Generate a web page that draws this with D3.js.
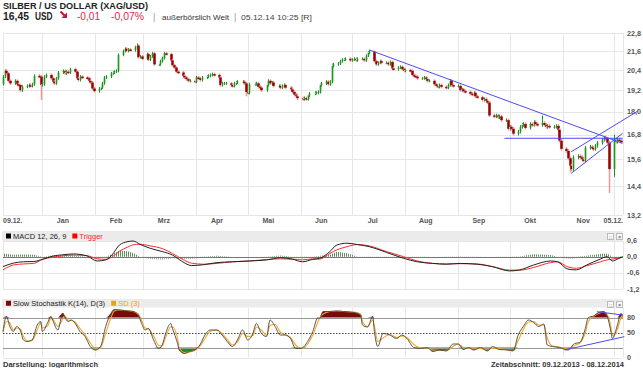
<!DOCTYPE html>
<html><head><meta charset="utf-8">
<script src="https://cdn.jsdelivr.net/npm/d3@7"></script>
<style>body{margin:0;background:#fff}svg{display:block}text{font-family:"Liberation Sans",Arial,sans-serif}</style>
</head><body><svg id="c" width="643" height="368"></svg>
<script>
// ---------- DATA ----------
const startDate = "2013-12-09";
const endDate = "2014-12-08";
const firstOpen = 19.55;
// daily closes, one per weekday from 09.12.2013
const closes = [
20.0,20.35,20.2,19.75,19.6, 19.75,19.55,19.5,19.2,19.4, 19.45,19.5,19.45,19.55,20.05, 20.0,19.5,19.55,20.0,20.1,
19.9,19.7,19.6,19.9,20.25, 20.35,20.2,20.3,20.25,20.45, 20.3,19.9,19.8,20.0,19.95, 19.9,19.75,19.65,19.3,19.15,
19.3,19.35,19.6,19.95,20.0, 20.2,20.25,20.3,20.35,21.35, 21.6,21.75,21.6,21.7,21.65, 21.85,21.95,21.2,21.25,21.1,
21.4,21.05,21.25,21.45,20.75, 20.75,20.95,21.15,21.45,21.4, 21.0,20.7,20.55,20.3,20.25, 20.05,19.95,19.85,19.75,19.75,
19.7,19.95,19.9,19.8,19.95, 20.0,20.05,20.1,20.15,20.1, 19.95,19.5,19.6,19.6,19.6, 19.5,19.45,19.6,19.65,19.7,
19.7,19.6,19.1,19.05,19.55, 19.55,19.6,19.4,19.35,19.2, 19.5,19.75,19.6,19.65,19.45, 19.45,19.35,19.45,19.5,19.35,
19.25,19.1,18.95,18.85,18.75, 18.7,18.75,18.7,18.9,19.0, 19.05,19.05,19.1,19.5,19.6, 19.7,19.55,19.7,20.65,20.75,
20.8,20.95,21.05,21.05,21.1, 21.0,21.05,21.1,21.0,21.1, 21.1,21.0,21.3,21.5,21.55, 20.95,20.75,20.85,20.95,20.85,
20.85,20.75,20.9,20.5,20.45, 20.55,20.6,20.45,20.35,20.4, 20.35,20.1,20.05,20.0,19.9, 19.9,19.95,19.85,19.75,19.75,
19.55,19.45,19.4,19.5,19.4, 19.35,19.5,19.75,19.5,19.45, 19.45,19.2,19.25,19.15,19.1, 19.0,18.95,19.05,18.85,18.8,
18.65,18.7,18.6,18.5,17.8, 17.75,17.8,17.7,17.75,17.55, 17.55,17.1,17.2,17.1,16.85, 16.95,17.2,17.3,17.35,17.15,
17.35,17.3,17.45,17.35,17.3, 17.4,17.3,17.2,17.25,17.2, 17.2,17.25,17.05,16.5,16.1, 16.0,15.65,15.3,15.15,15.7,
15.75,15.7,15.6,15.55,16.15, 16.2,16.15,16.1,16.25,16.4, 16.55,16.65,16.6,16.4,15.15, 16.55,16.45,16.55,16.5,16.45
];
const wickHigh = {"2014-02-25":22.1,"2014-06-19":20.8,"2014-07-11":21.67,"2014-08-27":19.85,"2014-10-20":17.8,"2014-12-01":16.8};
const wickLow  = {"2013-12-31":18.65,"2014-04-30":18.85,"2014-05-30":18.65,"2014-06-02":18.6,"2014-11-05":15.0,"2014-11-28":14.1,"2014-12-01":14.8};
const priceTicks = [22.8,21.6,20.4,19.2,18.0,16.8,15.6,14.4,13.2];
const monthLabels = ["Jan","Feb","Mrz","Apr","Mai","Jun","Jul","Aug","Sep","Okt","Nov"];
const firstLabel = "09.12.";
const lastLabel = "05.12.";

// MACD samples (calendar-day offsets from start)
const macdDays = [0,6,12,18,23,29,35,41,49,55,60,64,68,73,76,80,86,93,99,105,110,117,125,134,144,154,162,169,175,181,185,191,195,201,207,214,224,234,242,251,259,267,277,286,296,302,310,320,324,330,335,341,349,353,356,359,362];
const macdLine = [-0.37,-0.24,-0.19,-0.18,-0.1,0.02,0.07,0.1,0.03,-0.16,-0.12,0.09,0.43,0.56,0.58,0.46,0.31,0.19,0.06,-0.19,-0.33,-0.3,-0.22,-0.19,-0.16,-0.12,-0.04,-0.09,-0.19,-0.1,-0.06,0.19,0.43,0.5,0.45,0.37,0.16,-0.06,-0.19,-0.25,-0.28,-0.25,-0.28,-0.37,-0.53,-0.49,-0.31,-0.16,-0.19,-0.46,-0.49,-0.31,-0.09,0.0,-0.16,-0.09,0.0];
const triggerLine = [-0.49,-0.31,-0.27,-0.25,-0.1,-0.02,0.03,0.06,0.04,-0.08,-0.1,0.0,0.2,0.36,0.44,0.46,0.4,0.3,0.12,-0.1,-0.24,-0.28,-0.25,-0.19,-0.16,-0.11,-0.08,-0.09,-0.12,-0.08,-0.09,0.12,0.25,0.37,0.45,0.4,0.19,0.0,-0.16,-0.25,-0.27,-0.26,-0.27,-0.37,-0.5,-0.5,-0.4,-0.22,-0.19,-0.38,-0.43,-0.34,-0.19,-0.12,-0.09,-0.06,-0.02];
const macdTicks = [0.6,0.0,-0.6,-1.2];

// Slow stochastic samples
const stochDays = [0,2,4,6,8,10,12,14,17,20,22,23,26,28,29,32,35,36,38,40,42,45,48,51,54,57,60,63,65,68,73,76,79,81,83,85,88,91,93,95,98,99,102,103,106,109,112,115,118,121,125,128,131,134,137,140,143,146,148,151,154,156,159,162,165,168,171,174,178,181,184,185,187,191,195,199,205,209,210,213,216,217,219,222,226,230,233,236,240,244,248,251,255,259,263,266,269,272,275,279,283,286,290,295,298,301,304,307,310,313,316,318,321,325,330,334,337,340,342,345,348,351,353,355,356,359,361,362];
const stochK = [52,82,62,52,62,55,35,32,35,65,72,52,69,82,75,55,89,82,72,75,69,52,42,22,15,22,62,88,96,95,93,92,85,68,55,58,35,18,25,48,68,58,28,15,8,12,15,25,45,55,55,45,32,22,35,55,35,48,68,48,42,75,62,45,45,38,18,18,32,52,80,78,92,92,93,92,90,85,65,61,82,52,22,48,45,38,45,38,20,18,20,12,15,13,27,27,16,20,15,20,13,22,16,15,13,45,62,75,70,62,67,25,22,20,15,28,30,55,80,83,90,92,83,55,38,65,88,85];
const stochD = [50,72,69,55,59,57,42,33,34,55,70,59,63,78,77,62,78,84,75,74,71,58,45,29,17,20,49,79,93,95,94,92,87,74,59,57,43,24,23,40,61,61,38,19,10,11,14,22,38,52,55,48,36,25,31,48,42,44,61,55,44,64,66,51,45,40,25,18,27,45,71,79,87,92,93,92,91,87,72,62,75,62,32,39,46,40,43,40,26,19,19,15,14,14,22,27,20,19,17,18,15,19,18,15,14,34,56,71,72,65,65,39,23,21,17,24,29,47,72,82,88,91,86,64,44,56,80,86];
const stochLabelTicks = [80,50,0];

// drawn trend lines: [date, value]
const priceLines = [
  [["2014-07-11",21.67],["2014-12-06",16.37]],
  [["2014-09-28",16.62],["2014-12-06",16.62]],
  [["2014-11-06",15.96],["2014-12-15",18.04]],
  [["2014-11-06",14.96],["2014-12-06",16.87]]
];
const stochLines = [
  [["2014-11-02",15],["2014-12-07",41.6]],
  [["2014-11-21",91.6],["2014-12-06",85]]
];

// ---------- CHART ----------
const parse = d3.timeParse("%Y-%m-%d");
const fmt = d3.timeFormat("%Y-%m-%d");
const t0 = parse(startDate), t1 = parse(endDate);
const L = 3, R = 623;
const svg = d3.select("#c");
const x = d3.scaleTime().domain([t0, t1]).range([3, 626]);
const yP = d3.scaleLog().domain([13.2, 22.8]).range([215, 33]);
const yM = d3.scaleLinear().domain([-1.2, 0.6]).range([289, 240.5]);
const yS = d3.scaleLinear().domain([0, 100]).range([357.5, 307.5]);
const comma = v => v.toFixed(1).replace(".", ",");

const days = d3.timeDay.range(t0, t1).filter(d => d.getDay() !== 0 && d.getDay() !== 6).slice(0, closes.length);
const candles = days.map((d, i) => {
  const o = i === 0 ? firstOpen : closes[i - 1], c = closes[i], k = fmt(d);
  return {d, o, c, h: wickHigh[k] ?? Math.max(o, c) + 0.09, l: wickLow[k] ?? Math.min(o, c) - 0.09};
});

const grid = "#e6e6e6";
const monthStarts = d3.timeMonth.range(new Date(2014, 0, 1), new Date(2014, 11, 2));
function vgrid(y0, y1) {
  svg.append("g").selectAll("line").data(monthStarts).join("line")
    .attr("x1", d => Math.round(x(d)) + 0.5).attr("x2", d => Math.round(x(d)) + 0.5)
    .attr("y1", y0).attr("y2", y1).attr("stroke", grid);
  [L, R].forEach(xx => svg.append("line").attr("x1", xx + 0.5).attr("x2", xx + 0.5).attr("y1", y0).attr("y2", y1).attr("stroke", grid));
}
function hline(y, color, dash) {
  const l = svg.append("line").attr("x1", L).attr("x2", R).attr("y1", Math.round(y) + 0.5).attr("y2", Math.round(y) + 0.5).attr("stroke", color);
  if (dash) l.attr("stroke-dasharray", dash);
}
const axisText = (xx, yy, t) => svg.append("text").attr("x", xx).attr("y", yy).attr("dy", "0.35em")
  .attr("font-size", 7.2).attr("font-weight", "bold").attr("fill", "#555").text(t);

// header
svg.append("text").attr("x", 3).attr("y", 8.5).attr("font-size", 9.4).attr("font-weight", "bold").attr("fill", "#222")
  .attr("textLength", 145).attr("lengthAdjust", "spacingAndGlyphs").text("SILBER / US DOLLAR (XAG/USD)");
const hdr = [
  {x: 3, t: "16,45", w: 26, s: 10.5, b: true, c: "#222"},
  {x: 35, t: "USD", w: 17.5, s: 10.5, b: true, c: "#222"},
  {x: 77, t: "-0,01", w: 23, s: 10, b: false, c: "#e3264f"},
  {x: 111, t: "-0,07%", w: 33, s: 10, b: false, c: "#e3264f"},
  {x: 153, t: "|", w: 0, s: 9, b: false, c: "#999"},
  {x: 162, t: "außerbörslich Welt", w: 67, s: 7.5, b: false, c: "#333"},
  {x: 234, t: "|", w: 0, s: 9, b: false, c: "#999"},
  {x: 241, t: "05.12.14 10:25 [R]", w: 71, s: 7.5, b: false, c: "#444"}
];
hdr.forEach(h => {
  const t = svg.append("text").attr("x", h.x).attr("y", 19.5).attr("font-size", h.s).attr("font-weight", h.b ? "bold" : "normal").attr("fill", h.c).text(h.t);
  if (h.w) t.attr("textLength", h.w).attr("lengthAdjust", "spacingAndGlyphs");
});
svg.append("path").attr("d", "M60.5,11.5 L64.5,15.5").attr("stroke", "#d0103a").attr("stroke-width", 2.2);
svg.append("path").attr("d", "M67,18 L67,12.5 L61.5,18 Z").attr("fill", "#d0103a");

// ----- main panel -----
vgrid(33, 215);
priceTicks.forEach(v => { hline(yP(v), grid); axisText(627, yP(v), comma(v)); });

const cg = svg.append("g");
candles.forEach(k => {
  const cx = Math.round(x(k.d)) + 0.5, up = k.c >= k.o;
  const top = yP(Math.max(k.o, k.c)), bot = yP(Math.min(k.o, k.c));
  if (up) {
    cg.append("rect").attr("x", cx - 1.5).attr("y", top).attr("width", 3).attr("height", Math.max(1, bot - top)).attr("fill", "#b3dbb3");
    cg.append("line").attr("x1", cx).attr("x2", cx).attr("y1", yP(k.h)).attr("y2", yP(k.l)).attr("stroke", "#1f961f");
  } else {
    cg.append("line").attr("x1", cx).attr("x2", cx).attr("y1", yP(k.h)).attr("y2", yP(k.l)).attr("stroke", "#e39a9a").attr("stroke-width", 1.5);
    cg.append("rect").attr("x", cx - 1.25).attr("y", top).attr("width", 2.5).attr("height", Math.max(1.5, bot - top)).attr("fill", "#990000");
  }
});
priceLines.forEach(([a, b]) => svg.append("line")
  .attr("x1", x(parse(a[0]))).attr("y1", yP(a[1])).attr("x2", x(parse(b[0]))).attr("y2", yP(b[1]))
  .attr("stroke", "#4b4bf5").attr("stroke-width", 1));

// x labels
const labY = 221;
svg.append("text").attr("x", 3).attr("y", labY).attr("dy", "0.35em").attr("font-size", 7).attr("font-weight", "bold").attr("fill", "#555").text(firstLabel);
monthLabels.forEach((m, i) => svg.append("text").attr("x", x(new Date(2014, i, 13))).attr("y", labY).attr("dy", "0.35em")
  .attr("text-anchor", "middle").attr("font-size", 7).attr("font-weight", "bold").attr("fill", "#555").text(m));
svg.append("text").attr("x", R).attr("y", labY).attr("dy", "0.35em").attr("text-anchor", "end").attr("font-size", 7).attr("font-weight", "bold").attr("fill", "#555").text(lastLabel);

// panel header helper
function panelHeader(y0, y1, items) {
  svg.append("rect").attr("x", 2).attr("y", y0).attr("width", R - 2).attr("height", y1 - y0).attr("fill", "#ebebeb");
  let xx = 6;
  items.forEach(it => {
    svg.append("rect").attr("x", xx).attr("y", (y0 + y1) / 2 - 2.5).attr("width", 5).attr("height", 5).attr("fill", it.sq);
    const t = svg.append("text").attr("x", xx + 7).attr("y", (y0 + y1) / 2).attr("dy", "0.35em").attr("font-size", 7.5).attr("fill", it.c).text(it.t);
    xx += 7 + t.node().getComputedTextLength() + 6;
  });
  [607, 616].forEach((bx, j) => {
    svg.append("rect").attr("x", bx + 0.5).attr("y", y0 + 2.5).attr("width", 6).attr("height", 6).attr("fill", "#f8f8f8").attr("stroke", "#bbb");
    svg.append("text").attr("x", bx + 3.5).attr("y", y0 + 5.6).attr("dy", "0.35em").attr("text-anchor", "middle").attr("font-size", 5.5).attr("fill", "#444").text(j ? "×" : "::");
  });
}

// ----- MACD panel -----
panelHeader(231, 241, [{sq: "#000", t: "MACD 12, 26, 9", c: "#222"}, {sq: "#f00", t: "Trigger", c: "#f22"}]);
vgrid(241, 289);
macdTicks.forEach(v => { if (v !== 0) hline(yM(v), grid); axisText(627, yM(v), comma(v)); });
const defs = svg.append("defs");
[["hpPos", "#5f8f5f"], ["hpNeg", "#9fb09f"]].forEach(([id, c]) => defs.append("pattern").attr("id", id)
  .attr("width", 2).attr("height", 4).attr("patternUnits", "userSpaceOnUse").append("rect").attr("width", 1).attr("height", 4).attr("fill", c));
const mPts = macdDays.map((d, i) => ({d: d3.timeDay.offset(t0, d), m: macdLine[i], t: triggerLine[i]}));
const hist = d3.area().x(p => x(p.d)).y0(yM(0));
svg.append("path").attr("d", hist.y1(p => yM(Math.max(0, p.m - p.t)))(mPts)).attr("fill", "url(#hpPos)");
svg.append("path").attr("d", hist.y1(p => yM(Math.min(0, p.m - p.t)))(mPts)).attr("fill", "url(#hpNeg)");
hline(yM(0), "#777");
svg.append("path").attr("d", d3.line().x(p => x(p.d)).y(p => yM(p.t)).curve(d3.curveMonotoneX)(mPts)).attr("fill", "none").attr("stroke", "#ff2a2a");
svg.append("path").attr("d", d3.line().x(p => x(p.d)).y(p => yM(p.m)).curve(d3.curveMonotoneX)(mPts)).attr("fill", "none").attr("stroke", "#222");

// ----- Stochastic panel -----
panelHeader(299, 307.5, [{sq: "#7a0a0a", t: "Slow Stochastik K(14), D(3)", c: "#222"}, {sq: "#f5a000", t: "SD (3)", c: "#f5a000"}]);
vgrid(307.5, 357.5);
hline(yS(0), grid);
const sPts = stochDays.map((d, i) => ({d: d3.timeDay.offset(t0, d), k: stochK[i], dd: stochD[i]}));
const sa = d3.area().x(p => x(p.d)).curve(d3.curveMonotoneX);
svg.append("path").attr("d", sa.y0(yS(80)).y1(p => yS(Math.max(80, p.k)))(sPts)).attr("fill", "#7a0a0a");
svg.append("path").attr("d", sa.y0(yS(20)).y1(p => yS(Math.min(20, p.k)))(sPts)).attr("fill", "#1e8c1e");
hline(yS(80), "#999"); hline(yS(20), "#999"); hline(yS(50), "#444", "1.5,1.5");
stochLabelTicks.forEach(v => axisText(627, yS(v), String(v)));
svg.append("path").attr("d", d3.line().x(p => x(p.d)).y(p => yS(p.dd)).curve(d3.curveMonotoneX)(sPts)).attr("fill", "none").attr("stroke", "#f5a623").attr("stroke-width", 1.1);
svg.append("path").attr("d", d3.line().x(p => x(p.d)).y(p => yS(p.k)).curve(d3.curveMonotoneX)(sPts)).attr("fill", "none").attr("stroke", "#444").attr("stroke-width", 0.9);
stochLines.forEach(([a, b]) => svg.append("line")
  .attr("x1", x(parse(a[0]))).attr("y1", yS(a[1])).attr("x2", x(parse(b[0]))).attr("y2", yS(b[1]))
  .attr("stroke", "#4b4bf5"));

// footer
svg.append("text").attr("x", 3).attr("y", 364).attr("dy", "0.35em").attr("font-size", 7.5).attr("font-weight", "bold").attr("fill", "#333").text("Darstellung: logarithmisch");
svg.append("text").attr("x", 624).attr("y", 364).attr("dy", "0.35em").attr("text-anchor", "end").attr("font-size", 7.5).attr("font-weight", "bold").attr("fill", "#333").text("Zeitabschnitt: 09.12.2013 - 08.12.2014");
</script></body></html>
